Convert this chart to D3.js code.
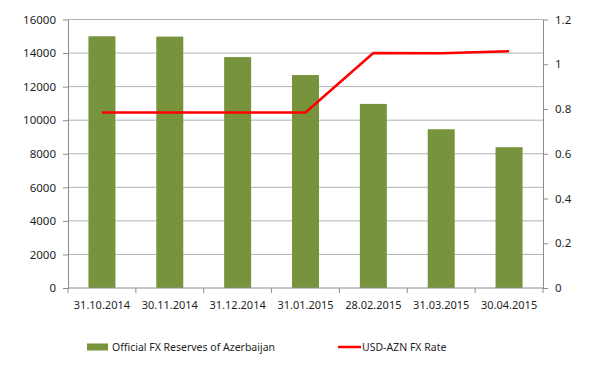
<!DOCTYPE html>
<html>
<head>
<meta charset="utf-8">
<script src="https://cdn.jsdelivr.net/npm/d3@7"></script>
<style>
  body { margin: 0; background: #fff; }
  svg text { font-family: "Noto Sans", "Open Sans", sans-serif; fill: #1f1f1f; }
</style>
</head>
<body>
<div id="chart"></div>
<script>
const dates = ["31.10.2014", "30.11.2014", "31.12.2014", "31.01.2015", "28.02.2015", "31.03.2015", "30.04.2015"];
const reserves = [15000, 14980, 13760, 12690, 10970, 9460, 8390];
const fxRate = [0.7843, 0.7843, 0.7843, 0.7843, 1.0502, 1.0490, 1.0580];
const leftTicks = [0, 2000, 4000, 6000, 8000, 10000, 12000, 14000, 16000];
const rightTicks = [0, 0.2, 0.4, 0.6, 0.8, 1, 1.2];

const width = 594, height = 381;
const margin = { top: 19.5, right: 51, bottom: 93, left: 68 };
const plotW = width - margin.left - margin.right,
      plotH = height - margin.top - margin.bottom;

const svg = d3.select("#chart")
    .append("svg")
    .attr("width", width)
    .attr("height", height);

const g = svg.append("g")
    .attr("transform", `translate(${margin.left}, ${margin.top})`);

const xBand = d3.scaleBand()
    .domain(dates)
    .range([0, plotW]);

const y = d3.scaleLinear().domain([0, 16000]).range([plotH, 0]);
const y2 = d3.scaleLinear().domain([0, 1.2]).range([plotH, 0]);

// gridlines
g.append("g")
    .selectAll("line")
    .data(leftTicks.slice(1))
    .join("line")
    .attr("x1", 0)
    .attr("x2", plotW)
    .attr("y1", d => y(d))
    .attr("y2", d => y(d))
    .style("stroke", "#b3b3b3")
    .style("stroke-width", 1);

// left axis
const leftAxis = g.append("g")
    .call(d3.axisLeft(y).tickValues(leftTicks).tickFormat(d3.format("d")).tickSize(5).tickPadding(7).tickSizeOuter(0));
leftAxis.selectAll("line").style("stroke", "#8c8c8c");
leftAxis.select(".domain").style("stroke", "#8c8c8c");
leftAxis.selectAll("text").style("font-size", "11.5px");

// right axis
const rightAxis = g.append("g")
    .attr("transform", `translate(${plotW}, 0)`)
    .call(d3.axisRight(y2).tickValues(rightTicks).tickFormat(d => String(+d.toFixed(1))).tickSize(5).tickPadding(7).tickSizeOuter(0));
rightAxis.selectAll("line").style("stroke", "#8c8c8c");
rightAxis.select(".domain").style("stroke", "#8c8c8c");
rightAxis.selectAll("text").style("font-size", "11.5px");

// bars
g.append("g")
    .selectAll("rect")
    .data(reserves)
    .join("rect")
    .attr("x", (d, i) => xBand(dates[i]) + (xBand.bandwidth() - 27) / 2)
    .attr("y", d => y(d))
    .attr("width", 27)
    .attr("height", d => plotH - y(d))
    .style("fill", "#77933c");

// bottom axis with ticks between categories
const bottom = g.append("g").attr("transform", `translate(0, ${plotH})`);
bottom.append("line")
    .attr("x1", 0).attr("x2", plotW)
    .style("stroke", "#8c8c8c");
bottom.selectAll(".tick-mark")
    .data(dates.concat(["end"]))
    .join("line")
    .attr("class", "tick-mark")
    .attr("x1", (d, i) => i * xBand.step())
    .attr("x2", (d, i) => i * xBand.step())
    .attr("y1", 0)
    .attr("y2", 5)
    .style("stroke", "#8c8c8c");
bottom.selectAll("text")
    .data(dates)
    .join("text")
    .attr("x", d => xBand(d) + xBand.bandwidth() / 2)
    .attr("y", 21)
    .attr("text-anchor", "middle")
    .style("font-size", "11px")
    .text(d => d);

// FX line
const line = d3.line()
    .x((d, i) => xBand(dates[i]) + xBand.bandwidth() / 2)
    .y(d => y2(d));

g.append("path")
    .datum(fxRate)
    .attr("d", line)
    .style("fill", "none")
    .style("stroke", "#ff0000")
    .style("stroke-width", 2.5)
    .style("stroke-linejoin", "round");

// legend
const legend = svg.append("g").attr("transform", "translate(0, 347)");
legend.append("rect")
    .attr("x", 87).attr("y", -3.5)
    .attr("width", 21).attr("height", 7)
    .style("fill", "#77933c");
legend.append("text")
    .attr("x", 112).attr("y", 4)
    .style("font-size", "10.5px")
    .text("Official FX Reserves of Azerbaijan");
legend.append("line")
    .attr("x1", 338).attr("x2", 361)
    .style("stroke", "#ff0000")
    .style("stroke-width", 2.5);
legend.append("text")
    .attr("x", 362).attr("y", 4)
    .style("font-size", "10.5px")
    .text("USD-AZN FX Rate");
</script>
</body>
</html>
